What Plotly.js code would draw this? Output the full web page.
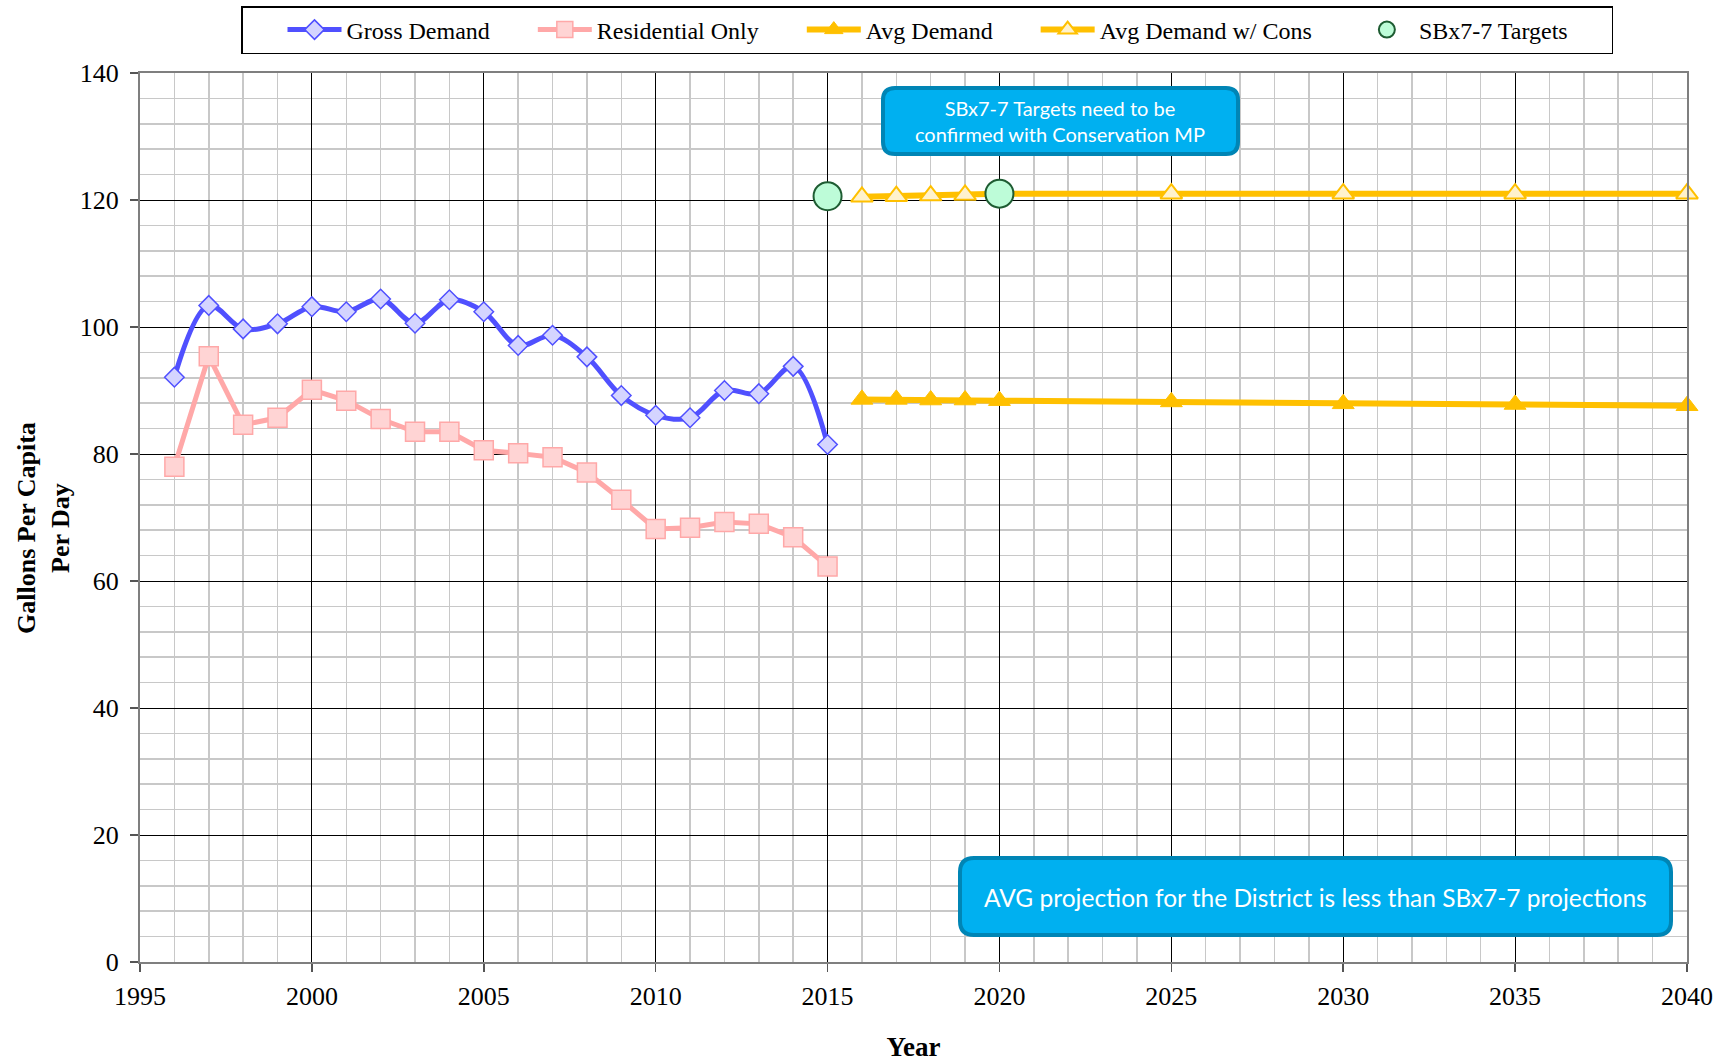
<!DOCTYPE html>
<html>
<head>
<meta charset="utf-8">
<script src="https://cdn.plot.ly/plotly-3.0.1.min.js"></script>
<style>html,body{margin:0;padding:0;background:#fff;}#chart{width:1729px;height:1062px;}</style>
</head>
<body>
<div id="chart"></div>
<script>
// ---- data ----
const histYears = [1996,1997,1998,1999,2000,2001,2002,2003,2004,2005,2006,2007,2008,2009,2010,2011,2012,2013,2014,2015];
const grossDemand = [92.1,103.4,99.7,100.5,103.2,102.4,104.4,100.6,104.3,102.4,97.1,98.7,95.3,89.2,86.1,85.7,90.0,89.5,93.8,81.5];
const residentialOnly = [78.0,95.4,84.6,85.7,90.1,88.4,85.5,83.5,83.5,80.6,80.1,79.5,77.1,72.8,68.2,68.4,69.3,69.0,66.9,62.3];
const projYears = [2016,2017,2018,2019,2020,2025,2030,2035,2040];
const avgDemand = [88.6,88.6,88.5,88.5,88.4,88.2,87.9,87.8,87.6];
const avgDemandCons = [120.5,120.6,120.7,120.8,121.0,121.0,121.0,121.0,121.0];
const targetYears = [2015,2020];
const targetValues = [120.6,121.0];
const seriesNames = ["Gross Demand","Residential Only","Avg Demand","Avg Demand w/ Cons","SBx7-7 Targets"];
const yTitle = "Gallons Per Capita<br>Per Day";
const xTitle = "Year";
const noteTop = "SBx7-7 Targets need to be<br>confirmed with Conservation MP";
const noteBottom = "AVG projection for the District is less than SBx7-7 projections";

// ---- layout geometry ----
const W = 1729, H = 1062;
const M = {l:140, r:42, t:73, b:100};
const XR = [1995,2040], YR = [0,140];
const pw = W - M.l - M.r, ph = H - M.t - M.b;
function dx(px){ return XR[0] + (px - M.l) / pw * (XR[1]-XR[0]); }
function dy(py){ return YR[1] - (py - M.t) / ph * (YR[1]-YR[0]); }
function roundRect(x0,y0,x1,y1,r){
  const a = (px,py)=> dx(px)+','+dy(py);
  return 'M'+a(x0+r,y0)+' L'+a(x1-r,y0)+' Q'+a(x1,y0)+' '+a(x1,y0+r)+
         ' L'+a(x1,y1-r)+' Q'+a(x1,y1)+' '+a(x1-r,y1)+
         ' L'+a(x0+r,y1)+' Q'+a(x0,y1)+' '+a(x0,y1-r)+
         ' L'+a(x0,y0+r)+' Q'+a(x0,y0)+' '+a(x0+r,y0)+' Z';
}
const serif = "'Liberation Serif', 'Times New Roman', serif";
const sans = "Lato, 'Open Sans', sans-serif";
const pad = '\u00A0'.repeat(6) + '\u200A';

const traces = [
  {x:histYears, y:grossDemand, name:seriesNames[0]+pad, type:'scatter', mode:'lines+markers',
   line:{color:'#5050FF', width:5, shape:'spline', smoothing:1},
   marker:{symbol:'diamond', size:15, color:'#D4D4FF', line:{color:'#5050FF', width:1.5}}, cliponaxis:false},
  {x:histYears, y:residentialOnly, name:seriesNames[1]+pad, type:'scatter', mode:'lines+markers',
   line:{color:'#FFA8A8', width:5},
   marker:{symbol:'square', size:19, color:'#FFD4D4', line:{color:'#FFA8A8', width:1.5}}, cliponaxis:false},
  {x:projYears, y:avgDemand, name:seriesNames[2]+pad, type:'scatter', mode:'lines+markers',
   line:{color:'#FFC000', width:6},
   marker:{symbol:'triangle-up', size:19, color:'#FFC000', line:{color:'#FFC000', width:1}}, cliponaxis:false},
  {x:projYears, y:avgDemandCons, name:seriesNames[3]+pad, type:'scatter', mode:'lines+markers',
   line:{color:'#FFC000', width:6},
   marker:{symbol:'triangle-up', size:19, color:'#FFF2CC', line:{color:'#FFC000', width:2}}, cliponaxis:false},
  {x:targetYears, y:targetValues, name:seriesNames[4]+pad, type:'scatter', mode:'markers',
   marker:{symbol:'circle', size:28, color:'#BDFCD8', line:{color:'#1E5C32', width:2}}, cliponaxis:false}
];

const axisCommon = {
  showgrid:true, gridcolor:'#000000', gridwidth:1,
  ticks:'outside', ticklen:8, tickcolor:'#555555', tickwidth:1.5,
  showline:true, linecolor:'#7f7f7f', linewidth:2, mirror:true, zeroline:false,
  tickfont:{family:serif, size:26, color:'#000'}
};

const layout = {
  width:W, height:H, margin:M, paper_bgcolor:'#fff', plot_bgcolor:'#fff',
  showlegend:true,
  legend:{orientation:'h', x:(241-M.l)/pw, xanchor:'left', yref:'container', y:1-6/H, yanchor:'top',
    bordercolor:'#000', borderwidth:1.5, font:{family:serif, size:24, color:'#000'},
    itemwidth:54, tracegroupgap:0,
    title:{text:'\u00A0'.repeat(5), font:{family:serif, size:24}}},
  xaxis:Object.assign({}, axisCommon, {range:XR, tick0:1995, dtick:5, ticklabelstandoff:2,
    minor:{dtick:1, showgrid:true, gridcolor:'#c8c8c8', gridwidth:1.5},
    title:{text:xTitle, font:{family:serif, size:27, color:'#000', weight:'bold'}, standoff:28}}),
  yaxis:Object.assign({}, axisCommon, {range:YR, tick0:0, dtick:20, ticklabelstandoff:6,
    minor:{dtick:4, showgrid:true, gridcolor:'#c8c8c8', gridwidth:1.5}}),
  shapes:[
    {type:'path', xref:'x', yref:'y', path:roundRect(883,88,1238,154,12), fillcolor:'#00B0F0', line:{color:'#0085B5', width:4}, layer:'above'},
    {type:'path', xref:'x', yref:'y', path:roundRect(960,858,1671,935,14), fillcolor:'#00B0F0', line:{color:'#0085B5', width:4}, layer:'above'}
  ],
  annotations:[
    {xref:'paper', yref:'paper', x:(43-M.l)/pw, y:(M.t+ph-528)/ph, xanchor:'center', yanchor:'middle',
     text:yTitle, textangle:-90, showarrow:false, align:'center',
     font:{family:serif, size:26, color:'#000', weight:'bold'}},
    {xref:'x', yref:'y', x:dx(1060), y:dy(121), text:noteTop, showarrow:false,
     font:{family:sans, size:20, color:'#fff'}, align:'center'},
    {xref:'x', yref:'y', x:dx(1315), y:dy(897), text:noteBottom, showarrow:false,
     font:{family:sans, size:24.5, color:'#fff'}, align:'center'}
  ]
};

Plotly.newPlot('chart', traces, layout, {displayModeBar:false, staticPlot:true});
</script>
</body>
</html>
